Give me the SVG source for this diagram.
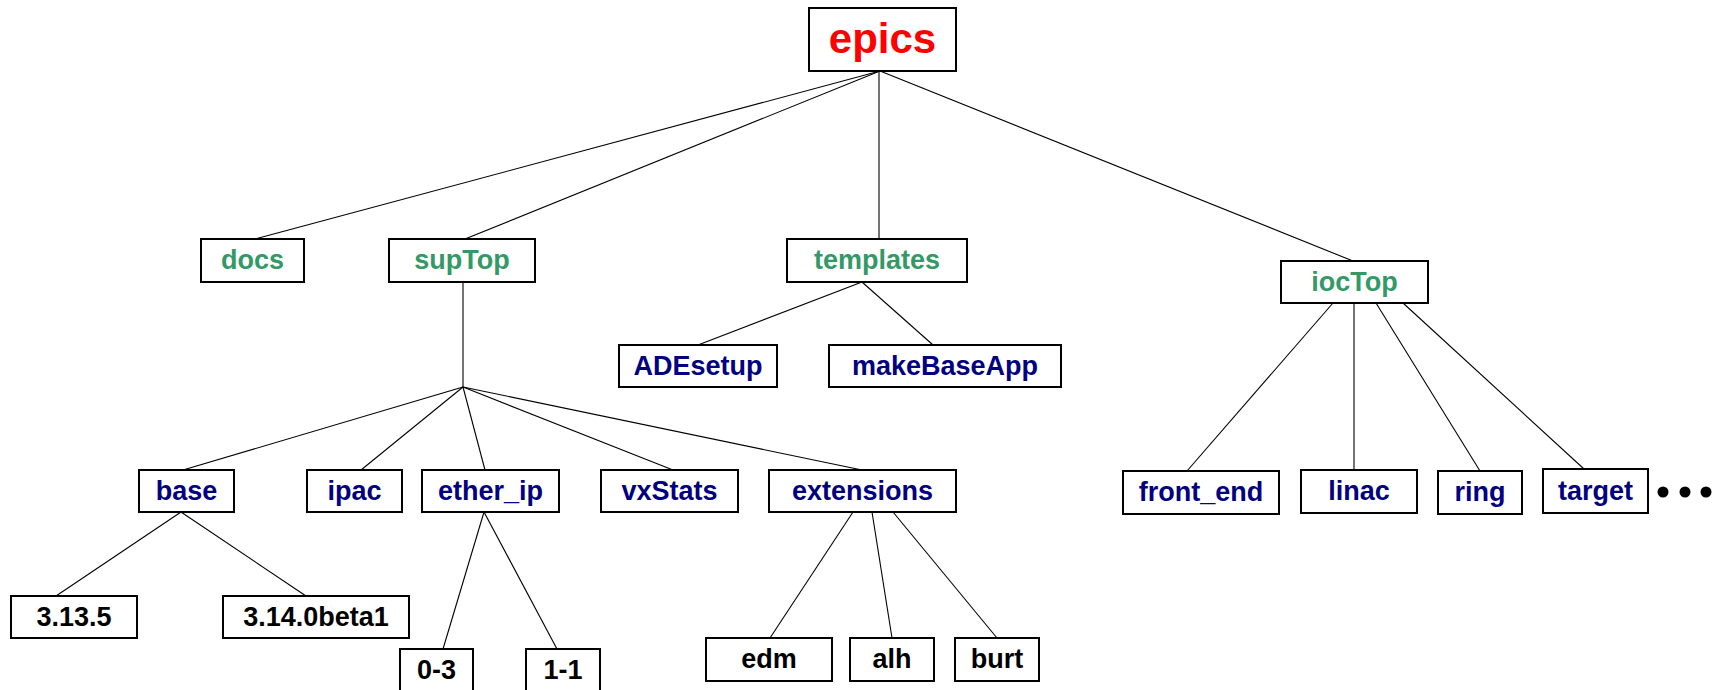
<svg xmlns="http://www.w3.org/2000/svg" width="1724" height="690" viewBox="0 0 1724 690">
<style>
.box{fill:#fff;stroke:#000;stroke-width:2}
.t{font-family:"Liberation Sans",Arial,sans-serif;font-weight:bold;font-size:27px;text-anchor:middle}
.g{fill:#339966}
.n{fill:#000080}
.k{fill:#000}
.e{fill:#ff0000;font-size:42px}
.c line{stroke:#000;stroke-width:1.1}
</style>
<rect width="1724" height="690" fill="#fff"/>
<g class="c" id="connectors">
<line x1="880" y1="71" x2="255" y2="239"/>
<line x1="880" y1="71" x2="465" y2="239"/>
<line x1="879" y1="71" x2="879" y2="239"/>
<line x1="880" y1="71" x2="1353" y2="261"/>
<line x1="463" y1="282" x2="463" y2="387"/>
<line x1="463" y1="387" x2="183" y2="470"/>
<line x1="463" y1="387" x2="361" y2="470"/>
<line x1="463" y1="387" x2="485" y2="470"/>
<line x1="463" y1="387" x2="673" y2="470"/>
<line x1="463" y1="387" x2="862" y2="470"/>
<line x1="862" y1="282" x2="698" y2="345"/>
<line x1="862" y1="282" x2="933" y2="345"/>
<line x1="181" y1="512" x2="56" y2="596"/>
<line x1="181" y1="512" x2="306" y2="596"/>
<line x1="484" y1="512" x2="443" y2="649"/>
<line x1="484" y1="512" x2="557" y2="649"/>
<line x1="853" y1="512" x2="770" y2="638"/>
<line x1="872" y1="512" x2="892" y2="638"/>
<line x1="893" y1="512" x2="997" y2="638"/>
<line x1="1333" y1="303" x2="1187" y2="471"/>
<line x1="1354" y1="303" x2="1354" y2="470"/>
<line x1="1376" y1="303" x2="1480" y2="471"/>
<line x1="1403" y1="303" x2="1584" y2="469"/>
</g>
<g id="epics"><rect class="box" x="809" y="8" width="147" height="63"/><text class="t e" x="882.5" y="53">epics</text></g>
<g id="docs"><rect class="box" x="201" y="239" width="103" height="43"/><text class="t g" x="252.5" y="269">docs</text></g>
<g id="supTop"><rect class="box" x="389" y="239" width="146" height="43"/><text class="t g" x="462" y="269">supTop</text></g>
<g id="templates"><rect class="box" x="787" y="239" width="180" height="43"/><text class="t g" x="877" y="269">templates</text></g>
<g id="iocTop"><rect class="box" x="1281" y="261" width="147" height="42"/><text class="t g" x="1354.5" y="291">iocTop</text></g>
<g id="ADEsetup"><rect class="box" x="619" y="345" width="158" height="42"/><text class="t n" x="698" y="375">ADEsetup</text></g>
<g id="makeBaseApp"><rect class="box" x="829" y="345" width="232" height="42"/><text class="t n" x="945" y="375">makeBaseApp</text></g>
<g id="base"><rect class="box" x="139" y="470" width="95" height="42"/><text class="t n" x="186.5" y="500">base</text></g>
<g id="ipac"><rect class="box" x="307" y="470" width="95" height="42"/><text class="t n" x="354.5" y="500">ipac</text></g>
<g id="ether_ip"><rect class="box" x="422" y="470" width="137" height="42"/><text class="t n" x="490.5" y="500">ether_ip</text></g>
<g id="vxStats"><rect class="box" x="601" y="470" width="137" height="42"/><text class="t n" x="669.5" y="500">vxStats</text></g>
<g id="extensions"><rect class="box" x="769" y="470" width="187" height="42"/><text class="t n" x="862.5" y="500">extensions</text></g>
<g id="v3135"><rect class="box" x="11" y="596" width="126" height="42"/><text class="t k" x="74" y="626">3.13.5</text></g>
<g id="v3140beta1"><rect class="box" x="223" y="596" width="186" height="42"/><text class="t k" x="316" y="626">3.14.0beta1</text></g>
<g id="v0-3"><rect class="box" x="400" y="649" width="73" height="42"/><text class="t k" x="436.5" y="679">0-3</text></g>
<g id="v1-1"><rect class="box" x="526" y="649" width="74" height="42"/><text class="t k" x="563" y="679">1-1</text></g>
<g id="edm"><rect class="box" x="706" y="638" width="126" height="43"/><text class="t k" x="769" y="668">edm</text></g>
<g id="alh"><rect class="box" x="850" y="638" width="84" height="43"/><text class="t k" x="892" y="668">alh</text></g>
<g id="burt"><rect class="box" x="955" y="638" width="84" height="43"/><text class="t k" x="997" y="668">burt</text></g>
<g id="front_end"><rect class="box" x="1123" y="471" width="156" height="43"/><text class="t n" x="1201" y="501">front_end</text></g>
<g id="linac"><rect class="box" x="1301" y="470" width="116" height="43"/><text class="t n" x="1359" y="500">linac</text></g>
<g id="ring"><rect class="box" x="1438" y="471" width="84" height="43"/><text class="t n" x="1480" y="501">ring</text></g>
<g id="target"><rect class="box" x="1543" y="469" width="105" height="44"/><text class="t n" x="1595.5" y="500">target</text></g>
<g id="ellipsis"><circle cx="1663" cy="492" r="5.5"/><circle cx="1685" cy="492" r="5.5"/><circle cx="1706" cy="492" r="5.5"/></g>
</svg>
